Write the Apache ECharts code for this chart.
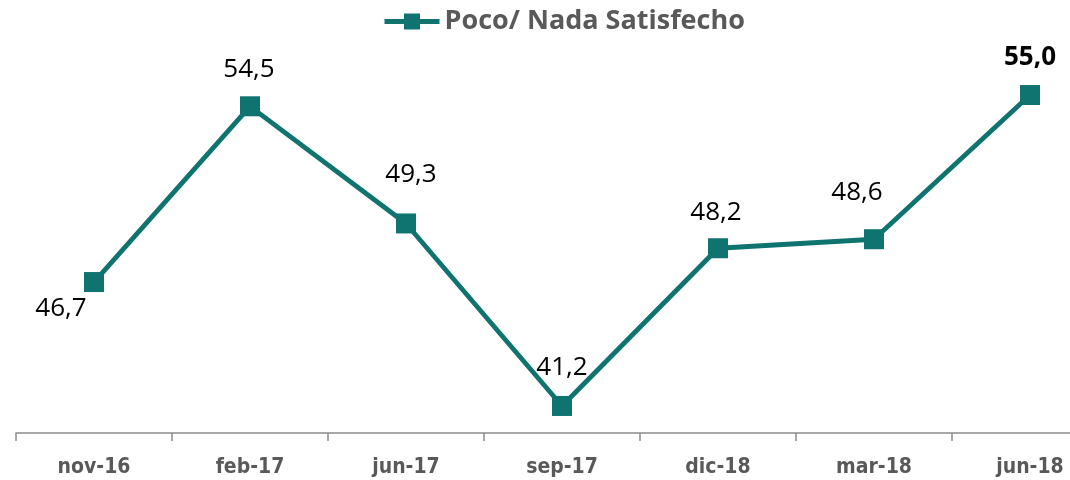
<!DOCTYPE html>
<html>
<head>
<meta charset="utf-8">
<script src="https://cdn.jsdelivr.net/npm/echarts@6/dist/echarts.min.js"></script>
<style>
html,body{margin:0;padding:0;background:#fff;overflow:hidden;width:1070px;height:480px;}
#chart{width:1108px;height:480px;}
</style>
</head>
<body>
<div id="chart"></div>
<script>
var categories = ['nov-16', 'feb-17', 'jun-17', 'sep-17', 'dic-18', 'mar-18', 'jun-18'];
var seriesName = 'Poco/ Nada Satisfecho';
var values = [46.7, 54.5, 49.3, 41.2, 48.2, 48.6, 55.0];

var teal = '#0F7370';
var labelOffsets = [[-33, 27], [-1, -37], [5, -49], [0, -38], [-2, -36], [-17, -47], [0, -37]];

var data = values.map(function (v, i) {
  var isLast = i === values.length - 1;
  return {
    value: v,
    label: {
      show: true,
      position: 'inside',
      offset: labelOffsets[i],
      formatter: function (p) { return p.value.toFixed(1).replace('.', ','); },
      fontFamily: 'Open Sans',
      fontSize: 26,
      fontWeight: isLast ? 'bold' : 'normal',
      color: '#000'
    }
  };
});

var chart = echarts.init(document.getElementById('chart'), null, {renderer: 'canvas'});
chart.setOption({
  animation: false,
  legend: {
    data: [seriesName],
    left: 382,
    top: 8,
    padding: 0,
    itemWidth: 55,
    itemHeight: 20,
    itemGap: 2,
    lineStyle: { width: 5 },
    textStyle: {
      fontFamily: 'Open Sans',
      fontWeight: 'bold',
      fontSize: 27,
      color: '#595959'
    }
  },
  grid: {
    left: 16,
    right: 0,
    top: 72.5,
    bottom: 47,
    containLabel: false
  },
  xAxis: {
    type: 'category',
    data: categories,
    boundaryGap: true,
    axisLine: { lineStyle: { color: '#8C8C8C', width: 1.5 } },
    axisTick: { show: true, length: 8, lineStyle: { color: '#8C8C8C', width: 1.5 } },
    axisLabel: {
      margin: 24,
      fontFamily: 'DejaVu Sans Condensed',
      fontWeight: 'bold',
      fontSize: 21,
      color: '#595959'
    },
    splitLine: { show: false }
  },
  yAxis: {
    type: 'value',
    min: 40,
    max: 56,
    show: false,
    splitLine: { show: false }
  },
  series: [{
    name: seriesName,
    type: 'line',
    data: data,
    symbol: 'rect',
    symbolSize: 20,
    lineStyle: { color: teal, width: 4.8 },
    itemStyle: { color: teal },
    z: 2
  }]
});
</script>
</body>
</html>
